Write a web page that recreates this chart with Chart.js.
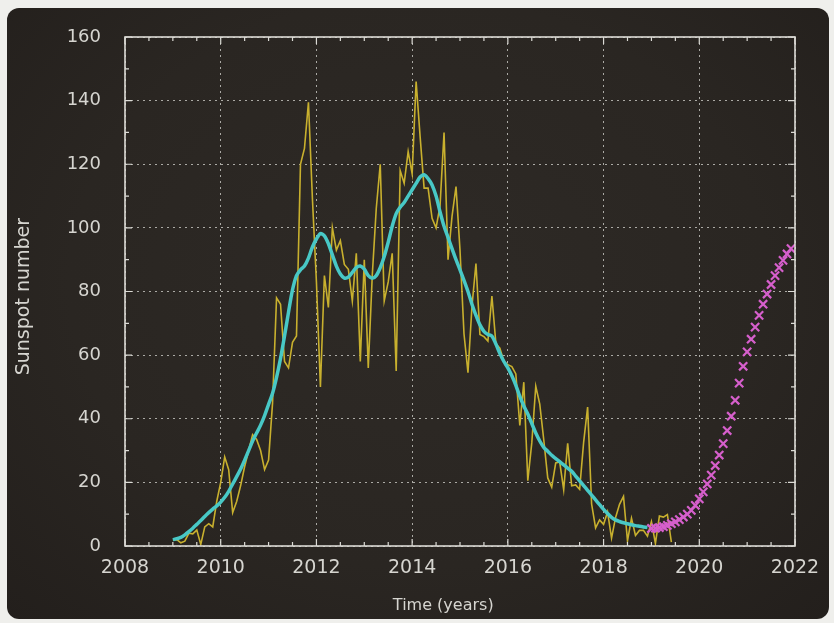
<!DOCTYPE html>
<html>
<head>
<meta charset="utf-8">
<script src="https://cdn.jsdelivr.net/npm/chart.js@4/dist/chart.umd.min.js"></script>
<style>
  html,body{margin:0;padding:0;background:#efefec;}
  #wrap{position:relative;width:834px;height:623px;overflow:hidden;background:#efefec;}
  #panel{position:absolute;left:7px;top:8px;width:822px;height:611px;border-radius:12px;
    background:radial-gradient(ellipse at 50% 45%, #2e2a26 0%, #2a2622 60%, #231f1c 100%);}
  #c{position:absolute;left:0;top:0;}
</style>
</head>
<body>
<div id="wrap">
  <div id="panel"></div>
  <canvas id="c" width="834" height="623"></canvas>
</div>
<script>
// ---- Data ----
const monthlyStartYear = 2009.0;      // first month of the monthly series
const smoothedStartYear = 2009.0;     // first month of the smoothed series
const predictedStartYear = 2019.0;    // first month of the predicted series

// Monthly sunspot number (yellow), Jan 2009 .. Jun 2019
const monthlySunspots = [
  1.8, 2.0, 1.0, 1.5, 4.0, 3.8, 5.0, 0.5, 6.0, 7.0, 6.0, 14.0,          // 2009
  20.0, 28.0, 24.0, 10.5, 14.0, 19.0, 25.0, 30.0, 35.0, 33.5, 30.0, 24.0, // 2010
  27.0, 45.0, 78.0, 76.0, 58.0, 56.0, 64.0, 66.0, 120.0, 125.0, 139.5, 109.0, // 2011
  83.0, 50.0, 85.0, 75.0, 100.0, 93.0, 96.0, 88.5, 87.0, 77.0, 92.0, 58.0, // 2012
  90.0, 56.0, 85.0, 106.0, 120.0, 77.0, 83.0, 92.0, 55.0, 118.0, 114.0, 124.0, // 2013
  117.0, 146.0, 128.7, 112.5, 112.5, 103.0, 100.0, 107.0, 130.0, 90.0, 103.6, 113.0, // 2014
  93.0, 66.7, 54.5, 75.3, 88.8, 66.5, 65.8, 64.4, 78.6, 63.6, 62.2, 58.0, // 2015
  57.0, 56.4, 54.1, 37.9, 51.5, 20.5, 32.4, 50.2, 44.6, 33.4, 21.4, 18.5, // 2016
  26.1, 26.4, 17.7, 32.3, 18.9, 19.2, 17.8, 32.6, 43.7, 13.2, 5.7, 8.2,   // 2017
  6.8, 10.7, 2.5, 8.9, 13.1, 15.6, 1.6, 8.7, 3.3, 4.9, 4.9, 3.1,         // 2018
  7.7, 0.8, 9.4, 9.1, 9.9, 1.2                                           // 2019
];

// Smoothed sunspot number (cyan), Jan 2009 .. Dec 2018
const smoothedSunspots = [
  2.0, 2.3, 2.7, 3.5, 4.5, 5.6, 6.8, 8.0, 9.3, 10.5, 11.6, 12.6,          // 2009
  13.8, 15.3, 17.2, 19.5, 21.8, 24.2, 27.0, 30.0, 33.0, 35.5, 38.0, 41.0, // 2010
  44.5, 48.0, 53.0, 59.0, 66.0, 73.5, 80.5, 85.0, 86.8, 88.0, 90.5, 94.0, // 2011
  96.5, 98.2, 97.5, 95.0, 91.5, 88.0, 85.5, 84.2, 84.5, 86.0, 87.5, 88.0, // 2012
  87.0, 85.0, 84.2, 85.0, 87.5, 91.0, 95.5, 100.5, 104.5, 106.5, 108.0, 110.0, // 2013
  112.0, 114.0, 116.0, 116.7, 115.5, 113.5, 110.0, 105.0, 100.5, 97.0, 93.5, 90.0, // 2014
  86.8, 83.5, 80.0, 76.0, 72.5, 69.5, 67.5, 66.5, 66.0, 63.5, 60.5, 58.0, // 2015
  56.0, 53.5, 50.5, 47.0, 44.0, 41.5, 38.5, 35.5, 33.0, 31.0, 29.8, 28.5, // 2016
  27.5, 26.5, 25.5, 24.5, 23.5, 22.0, 20.5, 19.0, 17.5, 16.0, 14.5, 13.0, // 2017
  11.5, 10.2, 9.0, 8.2, 7.7, 7.3, 7.0, 6.7, 6.4, 6.2, 6.0, 5.8            // 2018
];

// Predicted sunspot number (magenta crosses), Jan 2019 .. Dec 2021
const predictedSunspots = [
  5.5, 5.6, 5.8, 6.1, 6.5, 7.0, 7.6, 8.3, 9.1, 10.0, 11.2, 12.8,          // 2019
  14.8, 17.0, 19.5, 22.3, 25.3, 28.6, 32.2, 36.3, 40.8, 45.8, 51.2, 56.5, // 2020
  61.0, 65.0, 68.8, 72.5, 76.0, 79.2, 82.2, 85.0, 87.5, 89.8, 91.8, 93.5  // 2021
];

const yearTicks = [2008, 2010, 2012, 2014, 2016, 2018, 2020, 2022];
const valueTicks = [0, 20, 40, 60, 80, 100, 120, 140, 160];
const xAxisTitle = 'Time (years)';
const yAxisTitle = 'Sunspot number';

// ---- Build series ----
const toPoints = (start, arr) => arr.map((v, i) => ({x: start + i / 12, y: v}));

const isMajorX = v => yearTicks.some(t => Math.abs(t - v) < 1e-6);
const isMajorY = v => valueTicks.some(t => Math.abs(t - v) < 1e-6);

const TXT = '#d6d5d0';
const GRID = 'rgba(215,215,210,0.75)';

const framePlugin = {
  id: 'frame',
  afterDatasetsDraw(chart) {
    const {ctx, chartArea: a, scales: {x, y}} = chart;
    ctx.save();
    ctx.strokeStyle = '#dcdbd6';
    ctx.lineWidth = 1.2;
    ctx.beginPath();
    x.ticks.forEach(t => {
      const px = x.getPixelForValue(t.value);
      const len = isMajorX(t.value) ? 7 : 4;
      ctx.moveTo(px, a.bottom); ctx.lineTo(px, a.bottom - len);
      ctx.moveTo(px, a.top); ctx.lineTo(px, a.top + len);
    });
    y.ticks.forEach(t => {
      const py = y.getPixelForValue(t.value);
      const len = isMajorY(t.value) ? 7 : 4;
      ctx.moveTo(a.left, py); ctx.lineTo(a.left + len, py);
      ctx.moveTo(a.right, py); ctx.lineTo(a.right - len, py);
    });
    ctx.stroke();
    ctx.lineWidth = 1.6;
    ctx.strokeRect(a.left, a.top, a.right - a.left, a.bottom - a.top);
    ctx.restore();
  },
  afterDraw(chart) {
    const {ctx, chartArea: a} = chart;
    ctx.save();
    ctx.fillStyle = TXT;
    ctx.textAlign = 'center';
    ctx.textBaseline = 'middle';
    // x axis title (gnuplot centres it on the whole canvas, a bit left of the plot centre)
    ctx.font = '16px "DejaVu Sans"';
    ctx.fillText(xAxisTitle, a.left + (a.right - a.left) * 0.475, 606);
    // y axis title, rotated
    ctx.translate(24, a.top + (a.bottom - a.top) * 0.51);
    ctx.rotate(-Math.PI / 2);
    ctx.font = '19px "DejaVu Sans"';
    ctx.fillText(yAxisTitle, 0, 0);
    ctx.restore();
  }
};

new Chart(document.getElementById('c'), {
  type: 'line',
  data: {
    datasets: [
      {
        label: 'Monthly',
        data: toPoints(monthlyStartYear, monthlySunspots),
        borderColor: '#c8b02e',
        borderWidth: 1.6,
        pointRadius: 0,
        tension: 0,
        order: 3
      },
      {
        label: 'Smoothed',
        data: toPoints(smoothedStartYear, smoothedSunspots),
        borderColor: '#48c8c6',
        borderWidth: 3.5,
        pointRadius: 0,
        tension: 0.3,
        order: 2
      },
      {
        label: 'Predicted',
        data: toPoints(predictedStartYear, predictedSunspots),
        showLine: false,
        pointStyle: 'crossRot',
        pointRadius: 5.8,
        pointBorderWidth: 2.2,
        borderColor: '#d65fcc',
        backgroundColor: '#d65fcc',
        order: 1
      }
    ]
  },
  options: {
    responsive: false,
    animation: false,
    devicePixelRatio: 1,
    layout: {padding: {top: 37, right: 39, left: 0, bottom: 0}},
    plugins: {legend: {display: false}, tooltip: {enabled: false}},
    scales: {
      x: {
        type: 'linear',
        min: 2008, max: 2022,
        afterFit(s) { s.height = 77; },
        ticks: {
          stepSize: 0.5,
          autoSkip: false,
          maxRotation: 0,
          padding: 11,
          color: TXT,
          font: {family: 'DejaVu Sans', size: 19},
          callback: v => isMajorX(v) ? String(Math.round(v)) : ''
        },
        grid: {
          drawTicks: false,
          color: c => (c.tick && isMajorX(c.tick.value)) ? GRID : 'rgba(0,0,0,0)',
          lineWidth: 1
        },
        border: {display: false, dash: [2, 4]},
        title: {display: false}
      },
      y: {
        type: 'linear',
        min: 0, max: 160,
        afterFit(s) { s.width = 125; },
        ticks: {
          stepSize: 10,
          autoSkip: false,
          padding: 24,
          color: TXT,
          font: {family: 'DejaVu Sans', size: 18},
          callback: v => isMajorY(v) ? String(Math.round(v)) : ''
        },
        grid: {
          drawTicks: false,
          color: c => (c.tick && isMajorY(c.tick.value)) ? GRID : 'rgba(0,0,0,0)',
          lineWidth: 1
        },
        border: {display: false, dash: [2, 4]},
        title: {display: false}
      }
    }
  },
  plugins: [framePlugin]
});
</script>
</body>
</html>
